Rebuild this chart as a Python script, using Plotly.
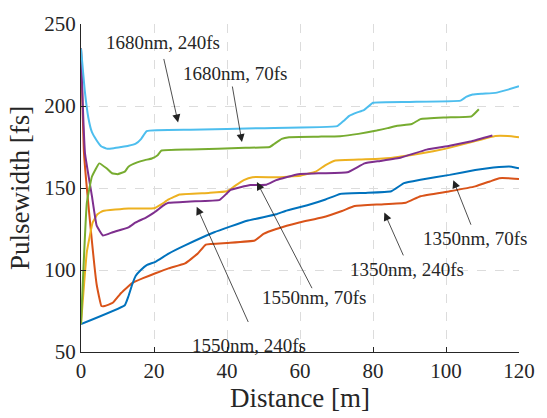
import plotly.graph_objects as go

# ---- data ----
lb_x = [0, 1, 2, 3, 4.3, 5.5, 7, 9, 11, 13, 15, 16.5, 18, 30, 50, 70.2, 72, 73.5, 75.5, 77.5, 80, 90, 104, 105.5, 107.3, 110, 113.5, 117, 120]
lb_y = [235, 210, 193, 184, 179, 175.5, 174, 174.3, 175, 175.7, 177, 180, 184.7, 185.5, 186.5, 187.7, 191, 194, 196, 197.5, 202, 202.5, 203.3, 205.5, 207, 207.5, 208, 210, 212]

gr_x = [0, 1.6, 3, 5, 7, 8.5, 10, 12, 13, 15.4, 17.5, 19.4, 21, 22, 30, 45, 51.7, 53, 55, 57, 65, 71, 76, 81, 84, 86.6, 90.6, 93, 100, 107, 109]
gr_y = [67, 141, 157, 165, 162, 159, 158.4, 160, 163, 165.6, 167, 168, 170, 172.8, 173.5, 174.5, 175, 177, 180, 181, 181.3, 181.6, 183, 185, 186.5, 188, 189, 192, 193, 193.7, 198]

ye_x = [0, 1.6, 3.2, 4.5, 6, 13, 20, 22, 24, 27, 35, 40, 42, 44.6, 47, 53.5, 60, 64.3, 67, 69.7, 78, 85.3, 93, 100, 107, 113.5, 117, 120]
ye_y = [67, 111, 129, 134, 136, 137.5, 137.6, 140, 143, 146, 147, 148, 151, 154.8, 156.6, 156.5, 157.5, 160, 164, 166.8, 167.5, 168.5, 171, 174, 178, 181.7, 181.7, 181]

pu_x = [0, 0.5, 1.1, 3, 4.3, 6, 8.7, 13, 15, 17.8, 20, 23, 24, 30, 38, 41, 46.4, 50.8, 53.5, 59.5, 66, 73, 77.7, 82, 87.7, 94.7, 101, 107, 112.7]
pu_y = [235, 200, 171, 145, 127, 121, 123, 126, 129, 132, 135, 140, 141, 141.8, 142.8, 148.8, 151.8, 152, 154.8, 158.4, 159, 159.6, 165, 166.5, 168.6, 173.4, 175.7, 178.5, 182]

bl_x = [0, 12, 13, 14, 15, 16.4, 18, 20.4, 24, 28.5, 36.5, 45.5, 53.5, 56, 62, 67, 71, 78, 85, 88.5, 93, 101, 108, 113, 116, 118, 120]
bl_y = [67, 78.5, 84, 91, 96.5, 100, 103, 105, 110, 115, 123, 130, 134, 136, 139.5, 143, 146.4, 147, 148, 153, 155, 158, 161, 162.5, 163, 163, 162]

or_x = [0, 0.8, 2.4, 4.3, 5.6, 6.5, 8.7, 11, 14, 17, 20.4, 24, 28.5, 32, 34.2, 40, 47.6, 50, 53.5, 59.8, 66, 71.5, 75, 82, 89, 93, 101, 108, 112, 114.6, 117, 120]
or_y = [235, 172, 131, 91, 78, 78, 80, 86, 92, 95, 98, 101, 104, 110, 115.5, 116.5, 118, 122, 125, 129, 132, 136, 139, 140, 141, 145, 148, 151, 154, 156, 156, 155.5]

labels = ["1680nm, 240fs", "1680nm, 70fs", "1550nm, 240fs", "1550nm, 70fs", "1350nm, 240fs", "1350nm, 70fs"]
label_x = [22.6, 42.2, 46, 64, 89.3, 108]
label_y = [238.6, 220, 54, 83, 100.3, 119]
head_x = [26.6, 44.1, 31.7, 48.2, 83.1, 102]
head_y = [190, 178, 138.6, 153.6, 135, 154.8]
tail_x = [22.6, 41.4, 46, 63.5, 88.5, 107]
tail_y = [229.6, 212.8, 67.4, 88, 108, 126.7]

x_ticks = [0, 20, 40, 60, 80, 100, 120]
y_ticks = [50, 100, 150, 200, 250]

FONT = "Liberation Serif, Times New Roman, DejaVu Serif, serif"
TXT = "#262626"

fig = go.Figure()
series = [
    (or_x, or_y, "#D95319"),
    (bl_x, bl_y, "#0072BD"),
    (ye_x, ye_y, "#EDB120"),
    (pu_x, pu_y, "#7E2F8E"),
    (gr_x, gr_y, "#77AC30"),
    (lb_x, lb_y, "#4DBEEE"),
]
for xs, ys, c in series:
    fig.add_trace(go.Scatter(x=xs, y=ys, mode="lines", line=dict(color=c, width=2, shape="spline", smoothing=0.3),
                             showlegend=False))

for t, lx, ly, hx, hy, tx, ty in zip(labels, label_x, label_y, head_x, head_y, tail_x, tail_y):
    fig.add_annotation(x=lx, y=ly, text=t, showarrow=False, xref="x", yref="y",
                       font=dict(family=FONT, size=19, color=TXT))
    fig.add_annotation(x=hx, y=hy, ax=tx, ay=ty, xref="x", yref="y", axref="x", ayref="y",
                       text="", showarrow=True, arrowhead=2, arrowsize=2, arrowwidth=0.8,
                       arrowcolor="#222222", standoff=0, startstandoff=0)

fig.update_layout(
    width=547, height=418,
    margin=dict(l=81, r=20, t=18, b=66),
    paper_bgcolor="white", plot_bgcolor="white",
    font=dict(family=FONT, size=21, color=TXT),
)
fig.update_xaxes(range=[0, 120], tickvals=x_ticks, showgrid=True, gridcolor="#dcdcdc", griddash="dash",
                 gridwidth=1, zeroline=False, showline=True, linecolor="#262626", linewidth=1,
                 ticks="inside", ticklen=5, tickcolor="#262626",
                 title=dict(text="Distance [m]", font=dict(size=27), standoff=2))
fig.update_yaxes(range=[50, 250], tickvals=y_ticks, showgrid=True, gridcolor="#dcdcdc", griddash="dash",
                 gridwidth=1, zeroline=False, showline=True, linecolor="#262626", linewidth=1,
                 ticks="inside", ticklen=5, tickcolor="#262626",
                 title=dict(text="Pulsewidth [fs]", font=dict(size=27), standoff=6))

fig.write_html("out.html")
